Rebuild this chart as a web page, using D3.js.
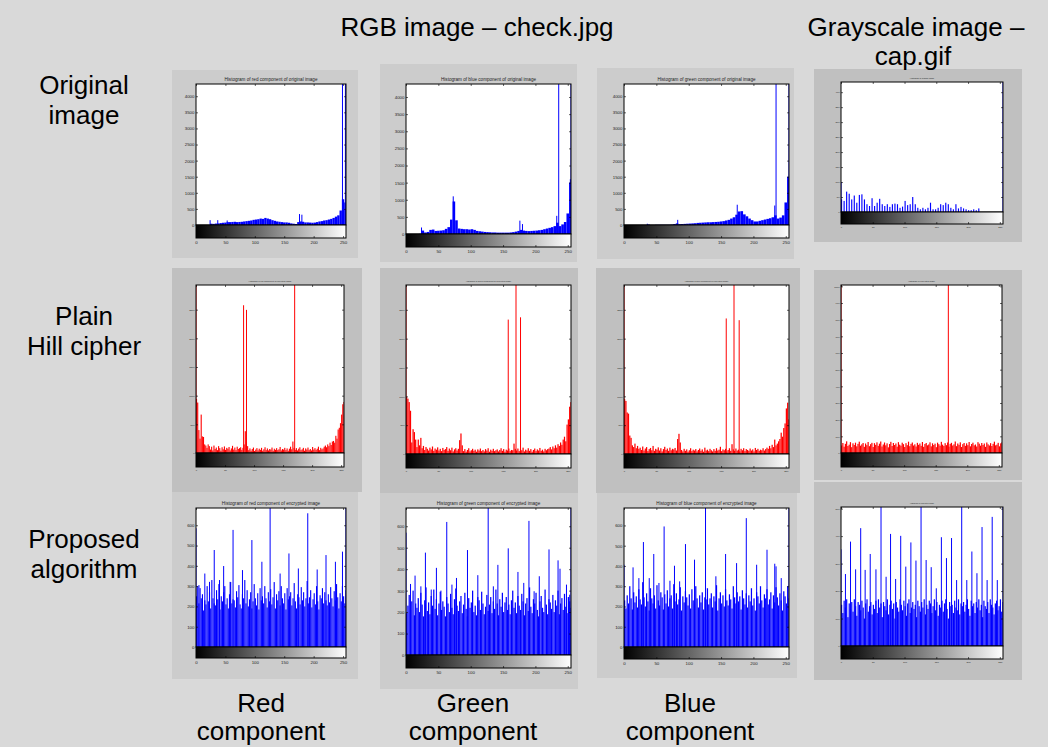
<!DOCTYPE html>
<html><head><meta charset="utf-8">
<script src="https://cdn.jsdelivr.net/npm/d3@7"></script>
<style>body{margin:0;background:#d9d9d9}svg{display:block}</style>
</head><body><svg id="c" width="1048" height="747"></svg>
<script>
// ---------- data ----------
const xTickVals = [0, 50, 100, 150, 200, 250];
const yTicksOrig = [0, 500, 1000, 1500, 2000, 2500, 3000, 3500, 4000];
const yTicksGrayOrig = [0, 50, 100, 150, 200, 250, 300, 350, 400];
const yTicksHill = [0, 500, 1000, 1500, 2000, 2500];
const yTicksHillGray = [0, 100, 200, 300, 400, 500, 600, 700, 800, 900, 1000];
const yTicksEnc = [0, 100, 200, 300, 400, 500, 600];
const yTicksEncGray = [0, 100, 200, 300, 400, 500];

const headerTexts = ["RGB image \u2013 check.jpg", "Grayscale image \u2013", "cap.gif"];
const rowLabels = [["Original", "image"], ["Plain", "Hill cipher"], ["Proposed", "algorithm"]];
const colLabels = [["Red", "component"], ["Green", "component"], ["Blue", "component"]];
const titles = [
  "Histogram of red component of original image",
  "Histogram of blue component of original image",
  "Histogram of green component of original image",
  "Histogram of original image",
  "Histogram of red component of encrypted image",
  "Histogram of green component of encrypted image",
  "Histogram of blue component of encrypted image",
  "Histogram of encrypted image",
  "Histogram of red component of encrypted image",
  "Histogram of green component of encrypted image",
  "Histogram of blue component of encrypted image",
  "Histogram of encrypted image"
];

// Row 1: original image histograms (64 bins of 4 grey levels) + thin spikes [level, count]
const redOrigBase = [0,0,0,0,0,0,40,35,45,50,60,70,75,90,90,95,
 100,90,95,100,110,120,130,140,160,170,180,200,190,220,200,180,
 150,130,110,100,90,80,80,70,50,40,30,90,110,100,80,80,
 75,70,75,90,110,120,140,150,170,190,220,260,300,450,800,700];
const redOrigSpikes = [[24,150],[37,150],[53,140],[176,340],[180,320],[249,4380],[254,4380]];

const blueOrigBase = [0,0,0,0,0,5,100,45,60,120,130,90,95,100,110,150,
 200,420,950,400,160,150,140,140,130,140,120,90,80,70,60,55,
 50,45,45,40,40,40,40,40,45,55,70,90,120,100,90,85,
 90,95,100,110,120,140,160,180,200,230,330,230,280,350,600,1500];
const blueOrigSpikes = [[24,190],[73,1100],[176,390],[180,290],[233,530],[236,4380],[254,1600],[255,4380]];

const greenOrigBase = [0,0,0,0,0,0,0,0,0,15,0,0,5,5,5,5,
 5,5,10,30,50,25,30,35,40,45,50,55,65,70,75,80,
 85,85,90,95,100,110,120,140,160,200,240,320,420,430,330,270,
 200,150,110,110,130,150,170,190,210,240,300,200,230,300,700,1500];
const greenOrigSpikes = [[36,40],[83,160],[175,630],[233,605],[235,4380],[255,4380]];

const grayOrigBase = [42,37,68,61,42,55,31,57,59,42,26,20,46,20,31,44,
 26,20,26,17,26,28,26,14,18,37,23,26,50,26,14,9,
 14,9,14,31,9,9,14,26,23,31,26,14,9,26,12,17,
 12,9,6,6,9,6,12,0,0,0,0,0,0,0,0,0];
const grayOrigSpikes = [[0,100],[255,434]];

// Row 2: plain Hill cipher (128 bins of 2 grey levels) + spikes
const redHillBase = [940,880,400,250,670,290,280,150,130,90,150,120,
 60,110,45,130,70,95,50,120,85,40,100,65,115,55,90,75,105,45,80,125,60,95,50,110,70,85,100,55,90,
 150,380,200,120,
 50,80,40,70,95,35,60,85,45,75,55,90,40,65,100,50,80,45,70,60,95,40,75,55,85,50,65,105,45,70,60,90,50,80,40,75,110,65,
 200,90,
 55,85,45,75,100,50,65,90,40,80,60,95,50,70,45,105,60,85,55,75,110,50,90,65,80,
 110,130,100,150,120,180,140,200,
 210,180,300,250,410,440,520,670,850,890];
const redHillSpikes = [[0,2930],[82,2577],[87,2496],[170,2930]];

const greenHillBase = [990,960,900,750,200,430,380,250,120,250,150,280,
 100,140,70,120,90,60,110,80,130,55,95,75,115,60,90,50,105,70,85,120,55,95,65,110,45,80,100,60,90,
 240,356,150,
 50,85,40,70,100,45,65,90,55,75,40,80,60,95,50,70,45,85,60,100,40,75,55,90,50,65,80,45,70,100,55,85,40,75,60,95,50,70,65,
 180,
 90,60,95,50,80,65,110,45,75,60,100,55,85,40,70,95,50,80,60,105,55,75,45,90,65,85,
 95,120,80,130,100,150,110,170,
 140,200,160,250,300,220,510,600,820,900];
const greenHillSpikes = [[0,2930],[158,2330],[170,2930],[177,2370]];

const blueHillBase = [950,920,720,700,320,280,150,120,180,100,140,90,
 110,70,130,60,95,120,50,85,105,65,140,55,90,75,115,60,100,45,85,125,70,95,55,110,65,90,80,105,60,
 260,350,200,
 70,45,90,55,80,40,65,100,50,75,60,85,45,70,95,55,80,40,110,60,75,50,90,65,45,85,55,100,60,75,125,50,80,65,90,45,70,100,55,
 170,
 80,55,95,60,75,45,90,65,100,50,85,70,55,95,60,80,45,105,70,90,55,75,65,100,60,85,
 110,90,140,100,160,120,250,150,
 180,220,260,370,300,450,530,790,890,600];
const blueHillSpikes = [[0,2930],[158,2350],[170,2930],[178,2320]];

const grayHillBase = [45,60,38,55,70,42,50,65,35,58,48,62,40,55,68,44,52,60,37,57,
 47,66,41,53,61,36,59,49,64,43,56,69,39,51,63,46,58,34,54,67,
 42,60,48,57,38,65,50,44,62,53,36,59,47,68,41,55,63,45,52,39,
 61,49,57,43,66,37,54,60,46,51,64,40,58,48,56,35,62,53,44,67,
 50,42,59,47,63,38,55,61,45,52,69,41,57,49,64,36,53,60,43,58,
 47,66,40,54,62,46,51,39,65,56,44,60,48,57,37,63,52,45,59,42,
 55,68,46,50,61,40,58,64];
const grayHillSpikes = [[0,1008],[170,1008]];

// Row 3: proposed algorithm (128 bins of 2 grey levels) + spikes
const redEncBase = [250,300,215,290,240,260,180,230,210,300,225,270,190,330,240,215,
 205,280,235,310,185,250,225,270,300,210,240,190,260,320,215,235,
 230,195,275,245,305,210,190,260,240,330,215,280,200,235,270,190,
 225,310,240,205,265,185,290,230,250,215,300,240,195,270,225,285,
 210,245,320,190,260,230,275,205,300,240,215,265,185,290,235,250,
 270,205,240,315,225,190,260,245,210,295,230,270,200,240,325,215,
 245,280,195,235,265,210,300,225,185,255,240,290,215,270,230,205,
 260,220,295,240,200,275,230,310,245,190,265,225,300,250,215,280];
const redEncSpikes = [[0,585],[5,305],[15,362],[23,321],[31,478],[40,330],[47,399],[58,321],[63,577],[79,379],
 [95,527],[112,420],[126,685],[143,362],[158,461],[174,387],[190,659],[206,382],[221,453],[237,420],[249,470],[255,685]];

const greenEncBase = [195,230,280,210,250,300,185,240,220,265,200,290,235,180,255,315,
 205,245,190,275,230,305,215,260,185,240,295,210,250,225,180,270,
 240,200,285,220,190,260,310,230,205,250,275,195,235,290,215,180,
 265,220,245,300,200,230,185,270,255,210,295,240,190,225,280,205,
 235,270,195,250,215,305,240,185,260,225,290,200,245,270,210,235,
 190,255,300,220,245,195,275,230,210,285,250,185,240,265,205,315,
 225,195,260,240,290,210,180,250,275,220,200,305,235,190,260,245,
 215,280,200,255,230,300,190,240,265,210,285,225,195,270,250,220];
const greenEncSpikes = [[0,570],[7,331],[14,370],[23,320],[30,477],[39,305],[47,406],[54,300],[63,620],[71,328],
 [78,359],[95,489],[111,372],[127,685],[135,320],[142,420],[158,497],[173,387],[182,336],[190,625],[198,297],
 [206,367],[221,492],[235,441],[238,402],[248,328],[253,281],[255,685]];

const blueEncBase = [230,190,255,215,300,240,185,270,220,250,195,285,235,210,320,245,
 200,265,225,180,290,240,215,255,190,305,230,205,270,245,185,260,
 215,280,200,240,255,190,310,225,265,210,235,295,180,250,220,275,
 245,205,260,190,285,230,215,300,240,195,255,220,270,185,245,235,
 290,210,240,265,195,250,225,305,180,240,270,215,255,200,285,230,
 205,260,235,190,300,245,215,270,225,250,185,280,240,210,265,195,
 255,225,290,205,240,180,270,250,215,300,230,195,260,240,285,210,
 235,270,190,255,220,295,245,205,265,230,180,275,250,215,300,240];
const blueEncSpikes = [[0,406],[14,393],[23,340],[30,518],[39,340],[46,459],[54,316],[62,595],[71,327],[78,401],
 [86,324],[95,508],[109,431],[126,686],[142,349],[157,459],[174,414],[189,636],[205,406],[221,480],[233,411],
 [235,398],[243,340],[255,686]];

const grayEncBase = [150,120,165,140,170,105,155,135,160,125,170,145,110,160,150,130,
 165,140,100,155,170,125,145,160,115,150,135,165,120,170,140,155,
 105,160,145,130,170,115,150,165,135,155,100,160,140,125,170,150,
 130,165,145,110,155,170,120,140,160,135,150,105,165,145,125,160,
 140,170,115,150,135,165,155,120,145,170,130,160,110,150,140,165,
 125,155,170,135,100,160,145,150,120,165,140,130,170,115,155,145,
 160,125,150,170,135,110,165,145,155,120,160,140,170,130,150,105,
 165,145,135,160,120,170,150,140,115,155,165,130,145,170,125,160];
const grayEncSpikes = [[0,352],[7,262],[15,380],[23,279],[31,429],[38,277],[46,335],[55,279],[63,506],[71,252],
 [78,408],[86,244],[94,401],[102,289],[110,377],[118,311],[126,506],[134,313],[142,287],[150,210],[158,396],
 [166,320],[174,393],[182,240],[190,506],[198,240],[206,344],[214,265],[222,433],[230,240],[238,470],[246,240],[255,506]];

// ---------- panel layout ----------
const BLUE = "#0000ff", RED = "#ff0000";
const panels = [
 {t:0, base:redOrigBase, spikes:redOrigSpikes, ymax:4380, yt:yTicksOrig, c:BLUE, bg:"#cccccc", frame:[172,70,186,188], plot:[196,84,346,225], cb:238, frac:1, tf:4.6, lf:4.4},
 {t:1, base:blueOrigBase, spikes:blueOrigSpikes, ymax:4380, yt:yTicksOrig, c:BLUE, bg:"#cccccc", frame:[380,64,197,198], plot:[406,84,571,234], cb:247, frac:1, tf:4.6, lf:4.4},
 {t:2, base:greenOrigBase, spikes:greenOrigSpikes, ymax:4380, yt:yTicksOrig, c:BLUE, bg:"#cccccc", frame:[597,68,197,191], plot:[624,84,789,225], cb:238, frac:1, tf:4.6, lf:4.4},
 {t:3, base:grayOrigBase, spikes:grayOrigSpikes, ymax:434, yt:yTicksGrayOrig, c:BLUE, bg:"#c0c0c0", frame:[814,69,208,173], plot:[841,82,1003,212], cb:224, frac:0.45, tf:2, lf:2.4},
 {t:4, base:redHillBase, spikes:redHillSpikes, ymax:2930, yt:yTicksHill, c:RED, bg:"#c0c0c0", frame:[172,268,190,224], plot:[196,285,344,453], cb:467, frac:0.95, tf:2, lf:2.4},
 {t:5, base:greenHillBase, spikes:greenHillSpikes, ymax:2930, yt:yTicksHill, c:RED, bg:"#c0c0c0", frame:[380,268,198,225], plot:[406,285,571,454], cb:468, frac:0.95, tf:2, lf:2.4},
 {t:6, base:blueHillBase, spikes:blueHillSpikes, ymax:2930, yt:yTicksHill, c:RED, bg:"#c0c0c0", frame:[596,268,204,225], plot:[624,285,789,454], cb:468, frac:0.95, tf:2, lf:2.4},
 {t:7, base:grayHillBase, spikes:grayHillSpikes, ymax:1008, yt:yTicksHillGray, c:RED, bg:"#c0c0c0", frame:[814,270,208,210], plot:[841,285,1002,453], cb:467, frac:0.95, tf:2, lf:2.4},
 {t:8, base:redEncBase, spikes:redEncSpikes, ymax:685, yt:yTicksEnc, c:BLUE, bg:"#cccccc", frame:[172,492,186,187], plot:[196,508,346,647], cb:658, frac:0.95, tf:4.6, lf:4.4},
 {t:9, base:greenEncBase, spikes:greenEncSpikes, ymax:685, yt:yTicksEnc, c:BLUE, bg:"#cccccc", frame:[380,493,198,196], plot:[406,508,571,655], cb:668, frac:0.95, tf:4.6, lf:4.4},
 {t:10, base:blueEncBase, spikes:blueEncSpikes, ymax:686, yt:yTicksEnc, c:BLUE, bg:"#cccccc", frame:[597,493,200,185], plot:[624,508,789,647], cb:659, frac:0.95, tf:4.6, lf:4.4},
 {t:11, base:grayEncBase, spikes:grayEncSpikes, ymax:506, yt:yTicksEncGray, c:BLUE, bg:"#c0c0c0", frame:[814,482,208,198], plot:[841,507,1003,646], cb:659, frac:0.95, tf:1.8, lf:2.4}
];

// ---------- drawing ----------
const svg = d3.select("#c");
const FONT = "Arial, 'Liberation Sans', sans-serif";
svg.append("rect").attr("width", 1048).attr("height", 747).attr("fill", "#d9d9d9");
const defs = svg.append("defs");
const grad = defs.append("linearGradient").attr("id", "gbar");
grad.append("stop").attr("offset", "0%").attr("stop-color", "#000");
grad.append("stop").attr("offset", "100%").attr("stop-color", "#fff");

panels.forEach((p, k) => {
  const g = svg.append("g");
  const [fx, fy, fw, fh] = p.frame;
  g.append("rect").attr("x", fx).attr("y", fy).attr("width", fw).attr("height", fh).attr("fill", p.bg);
  const [x0, y0, x1, y1] = p.plot;
  const x = d3.scaleLinear().domain([0, 255]).range([x0, x1]);
  const y = d3.scaleLinear().domain([0, p.ymax]).range([y1, y0]);
  g.append("rect").attr("x", x0).attr("y", y0).attr("width", x1 - x0).attr("height", y1 - y0).attr("fill", "#fff");
  defs.append("clipPath").attr("id", "clip" + k).append("rect")
    .attr("x", x0).attr("y", y0).attr("width", x1 - x0).attr("height", y1 - y0);
  const bars = g.append("g").attr("clip-path", `url(#clip${k})`);
  const binW = 256 / p.base.length;
  const bw = Math.max(0.5, (x(binW) - x(0)) * p.frac);
  bars.selectAll("rect").data(p.base).join("rect")
    .attr("x", (d, i) => x(i * binW))
    .attr("width", bw)
    .attr("y", d => y(Math.min(d, p.ymax)))
    .attr("height", d => y1 - y(Math.min(d, p.ymax)))
    .attr("fill", p.c);
  bars.selectAll("line").data(p.spikes).join("line")
    .attr("x1", d => x(d[0])).attr("x2", d => x(d[0]))
    .attr("y1", y1).attr("y2", d => y(Math.min(d[1], p.ymax)))
    .attr("stroke", p.c).attr("stroke-width", 1);

  const styleAxis = sel => {
    sel.select(".domain").remove();
    sel.selectAll("line").attr("stroke", "#000").attr("stroke-width", 0.6);
    sel.selectAll("text").attr("font-size", p.lf).attr("font-family", FONT).attr("fill", "#222");
  };
  g.append("g").attr("transform", `translate(${x0},0)`)
    .call(d3.axisLeft(y).tickValues(p.yt).tickSize(-2).tickPadding(1.5).tickFormat(d3.format("d"))).call(styleAxis);
  g.append("g").attr("transform", `translate(${x1},0)`)
    .call(d3.axisRight(y).tickValues(p.yt).tickSize(-2).tickFormat("")).call(styleAxis);
  g.append("g").attr("transform", `translate(0,${y0})`)
    .call(d3.axisTop(x).tickValues(xTickVals).tickSize(-2).tickFormat("")).call(styleAxis);
  g.append("rect").attr("x", x0).attr("y", y0).attr("width", x1 - x0).attr("height", y1 - y0)
    .attr("fill", "none").attr("stroke", "#000").attr("stroke-width", 1);

  // colour bar
  g.append("rect").attr("x", x0).attr("y", y1).attr("width", x1 - x0).attr("height", p.cb - y1)
    .attr("fill", "url(#gbar)").attr("stroke", "#000").attr("stroke-width", 1);
  g.append("g").attr("transform", `translate(0,${p.cb})`)
    .call(d3.axisBottom(x).tickValues(xTickVals).tickSize(-2).tickPadding(2.5).tickFormat(d3.format("d"))).call(styleAxis);

  g.append("text").attr("x", (x0 + x1) / 2).attr("y", y0 - 3).attr("text-anchor", "middle")
    .attr("font-size", p.tf).attr("font-family", FONT).attr("fill", "#222").text(titles[p.t]);
});

// ---------- labels ----------
const big = (t, cx, by) => svg.append("text").attr("x", cx).attr("y", by).attr("text-anchor", "middle")
  .attr("font-size", 26).attr("font-family", FONT).attr("fill", "#000").text(t);
big(headerTexts[0], 477, 36);
big(headerTexts[1], 916, 36);
big(headerTexts[2], 913, 65);
const rowY = [94, 325, 548];
rowLabels.forEach((r, i) => { big(r[0], 84, rowY[i]); big(r[1], 84, rowY[i] + 30); });
const colX = [261, 473, 690];
colLabels.forEach((c, i) => { big(c[0], colX[i], 712); big(c[1], colX[i], 740); });
</script></body></html>
